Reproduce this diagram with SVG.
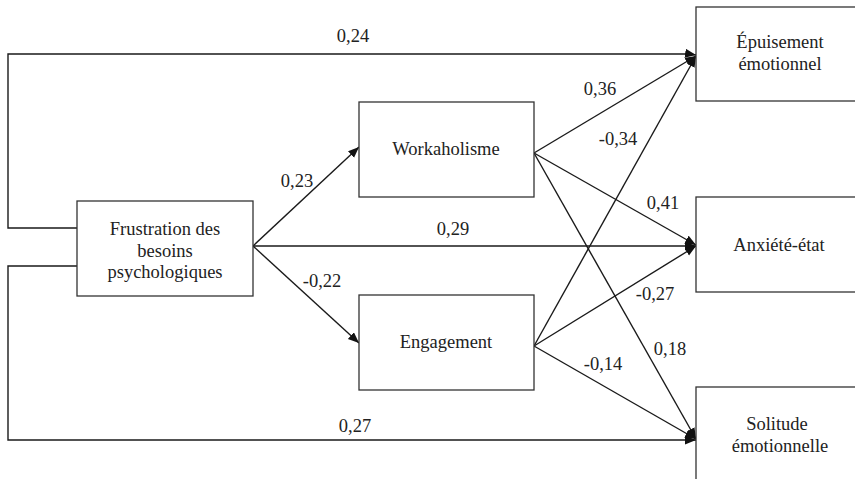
<svg xmlns="http://www.w3.org/2000/svg" width="855" height="479" viewBox="0 0 855 479">
<style>
.box{fill:#fff;stroke:#333;stroke-width:1.3}
.lbl{font-size:18.5px;fill:#222;text-anchor:middle}
.ln{fill:none;stroke:#1a1a1a;stroke-width:1.4}
</style>
<defs>
<marker id="ah" markerUnits="userSpaceOnUse" markerWidth="12" markerHeight="10" refX="11" refY="4.5" orient="auto">
<path d="M0,0 L11,4.5 L0,9 Z" fill="#111"/>
</marker>
</defs>
<rect width="855" height="479" fill="#fff"/>
<g font-family="Liberation Serif, DejaVu Serif, serif">
<g id="connectors">
<path class="ln" d="M77,228 H8 V54 H690 L696,55" marker-end="url(#ah)"/>
<path class="ln" d="M77,266 H8 V440 H696" marker-end="url(#ah)"/>
<path class="ln" d="M253,246 H696" marker-end="url(#ah)"/>
<path class="ln" d="M253,246 L359,147" marker-end="url(#ah)"/>
<path class="ln" d="M253,246 L359,343" marker-end="url(#ah)"/>
<path class="ln" d="M534,153 L696,56" marker-end="url(#ah)"/>
<path class="ln" d="M534,153 L696,245" marker-end="url(#ah)"/>
<path class="ln" d="M534,153 L696,439" marker-end="url(#ah)"/>
<path class="ln" d="M534,346 L696,56" marker-end="url(#ah)"/>
<path class="ln" d="M534,346 L696,246" marker-end="url(#ah)"/>
<path class="ln" d="M534,346 L696,439" marker-end="url(#ah)"/>
<text class="lbl" x="353" y="42">0,24</text>
<text class="lbl" x="297" y="187">0,23</text>
<text class="lbl" x="322" y="287">-0,22</text>
<text class="lbl" x="453" y="235">0,29</text>
<text class="lbl" x="355" y="432">0,27</text>
<text class="lbl" x="600" y="95">0,36</text>
<text class="lbl" x="618" y="145">-0,34</text>
<text class="lbl" x="663" y="209">0,41</text>
<text class="lbl" x="655" y="300">-0,27</text>
<text class="lbl" x="670" y="355">0,18</text>
<text class="lbl" x="603" y="370">-0,14</text>
</g>
<g id="frustration">
<rect class="box" x="77" y="201" width="176" height="95"/>
<text class="lbl" x="165" y="235">Frustration des</text>
<text class="lbl" x="165" y="257">besoins</text>
<text class="lbl" x="165" y="278">psychologiques</text>
</g>
<g id="workaholisme">
<rect class="box" x="359" y="102" width="175" height="95"/>
<text class="lbl" x="446" y="155">Workaholisme</text>
</g>
<g id="engagement">
<rect class="box" x="359" y="295" width="175" height="95"/>
<text class="lbl" x="446" y="348">Engagement</text>
</g>
<g id="epuisement">
<rect class="box" x="696" y="7" width="168" height="94"/>
<text class="lbl" x="780" y="48">Épuisement</text>
<text class="lbl" x="780" y="70">émotionnel</text>
</g>
<g id="anxiete">
<rect class="box" x="696" y="197" width="168" height="95"/>
<text class="lbl" x="779" y="251">Anxiété-état</text>
</g>
<g id="solitude">
<rect class="box" x="696" y="387" width="168" height="110"/>
<text class="lbl" x="777" y="430">Solitude</text>
<text class="lbl" x="780" y="452">émotionnelle</text>
</g>
</g>
</svg>
